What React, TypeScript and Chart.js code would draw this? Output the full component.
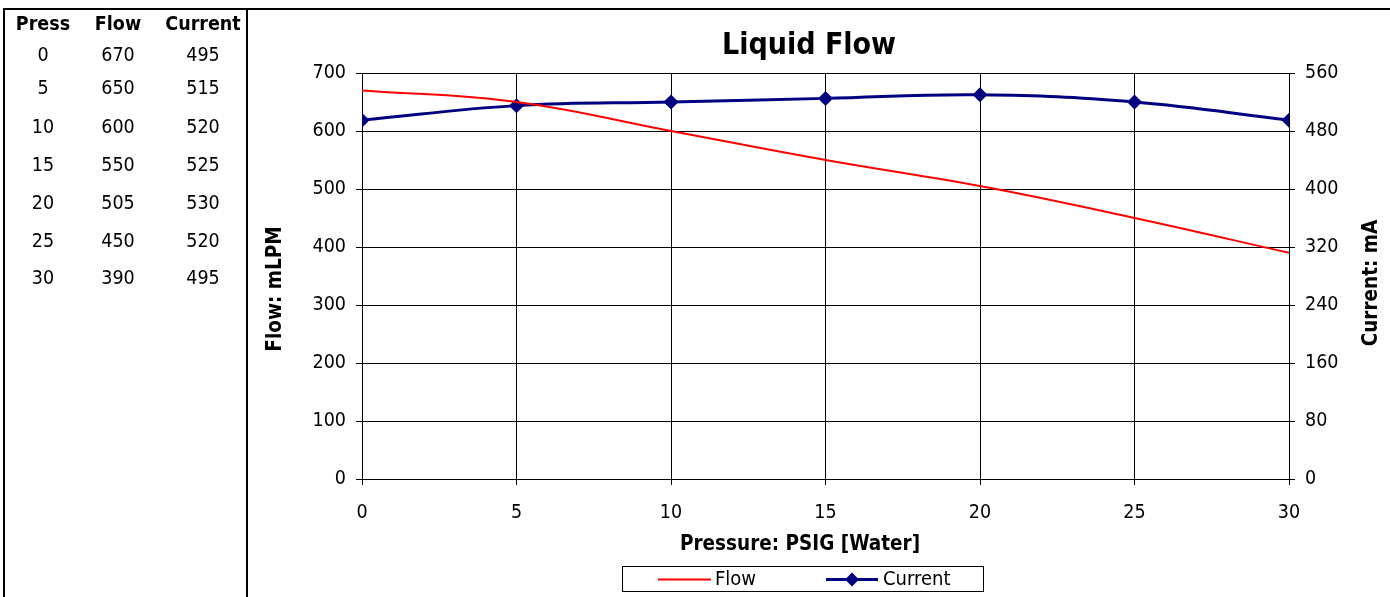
import React, { useEffect, useRef } from "react";
import { Chart, registerables } from "chart.js";

Chart.register(...registerables);

const pressure = [0, 5, 10, 15, 20, 25, 30];
const flow = [670, 650, 600, 550, 505, 450, 390];
const current = [495, 515, 520, 525, 530, 520, 495];
const tableHeaders = ["Press", "Flow", "Current"];
const chartTitle = "Liquid Flow";
const xTitle = "Pressure: PSIG [Water]";
const yTitle = "Flow: mLPM";
const y1Title = "Current: mA";

const FONT = "'DejaVu Sans Condensed', 'DejaVu Sans', sans-serif";
const FLOW_COLOR = "#FF0000";
const CURRENT_COLOR = "#000080";

const W = 1390;
const H = 597;

const overlayPlugin = {
  id: "overlay",
  afterDraw(chart: any) {
    const ctx = chart.ctx as CanvasRenderingContext2D;
    ctx.save();
    ctx.fillStyle = "#000";
    // chart title
    ctx.font = `bold 30px ${FONT}`;
    ctx.textAlign = "center";
    ctx.textBaseline = "middle";
    ctx.fillText(chartTitle, 809, 46);
    // x title
    ctx.font = `bold 20.5px ${FONT}`;
    ctx.fillText(xTitle, 800, 545);
    // left y title
    ctx.save();
    ctx.translate(276, 289);
    ctx.rotate(-Math.PI / 2);
    ctx.fillText(yTitle, 0, 0);
    ctx.restore();
    // right y title
    ctx.save();
    ctx.translate(1372, 283);
    ctx.rotate(-Math.PI / 2);
    ctx.fillText(y1Title, 0, 0);
    ctx.restore();

    // legend
    const ds = chart.data.datasets;
    ctx.lineWidth = 1;
    ctx.strokeStyle = "#000";
    ctx.strokeRect(622.5, 566.5, 361, 25);
    const ly = 579.5;
    ctx.font = `20px ${FONT}`;
    ctx.textAlign = "left";
    // Flow
    ctx.strokeStyle = ds[0].borderColor;
    ctx.lineWidth = 2;
    ctx.beginPath();
    ctx.moveTo(658, ly);
    ctx.lineTo(711, ly);
    ctx.stroke();
    ctx.fillStyle = "#000";
    ctx.fillText(ds[0].label, 715, ly);
    // Current
    ctx.strokeStyle = ds[1].borderColor;
    ctx.lineWidth = 3;
    ctx.beginPath();
    ctx.moveTo(826, ly);
    ctx.lineTo(878, ly);
    ctx.stroke();
    ctx.fillStyle = ds[1].pointBackgroundColor;
    const r = 7;
    ctx.beginPath();
    ctx.moveTo(852, ly - r);
    ctx.lineTo(852 + r, ly);
    ctx.lineTo(852, ly + r);
    ctx.lineTo(852 - r, ly);
    ctx.closePath();
    ctx.fill();
    ctx.fillStyle = "#000";
    ctx.fillText(ds[1].label, 883, ly);
    ctx.restore();
  },
};

export default function App() {
  const ref = useRef<HTMLCanvasElement>(null);

  useEffect(() => {
    document.body.style.margin = "0";
    const canvas = ref.current!;
    const tickFont = { family: FONT, size: 19.5 };
    const chart = new Chart(canvas, {
      type: "line",
      data: {
        datasets: [
          {
            label: "Flow",
            data: pressure.map((p, i) => ({ x: p, y: flow[i] })),
            borderColor: FLOW_COLOR,
            backgroundColor: FLOW_COLOR,
            borderWidth: 2,
            pointRadius: 0,
            tension: 0.4,
            yAxisID: "y",
          },
          {
            label: "Current",
            data: pressure.map((p, i) => ({ x: p, y: current[i] })),
            borderColor: CURRENT_COLOR,
            backgroundColor: CURRENT_COLOR,
            pointBackgroundColor: CURRENT_COLOR,
            pointBorderColor: CURRENT_COLOR,
            pointStyle: "rectRot",
            pointRadius: 7.5,
            pointBorderWidth: 0,
            borderWidth: 3,
            tension: 0.4,
            yAxisID: "y1",
          },
        ],
      },
      options: {
        animation: false,
        responsive: false,
        maintainAspectRatio: false,
        layout: { padding: { top: 73, left: 0, right: 0, bottom: 0 } },
        plugins: {
          legend: { display: false },
          title: { display: false },
          tooltip: { enabled: false },
        },
        scales: {
          x: {
            type: "linear",
            min: 0,
            max: 30,
            ticks: {
              stepSize: 5,
              color: "#000",
              font: tickFont,
              padding: 16,
              maxRotation: 0,
            },
            grid: { color: "#000", lineWidth: 1, tickLength: 6, drawTicks: true },
            border: { color: "#000", width: 1 },
            afterFit: (s: any) => {
              s.height = H - 479;
            },
          },
          y: {
            type: "linear",
            position: "left",
            min: 0,
            max: 700,
            ticks: {
              stepSize: 100,
              color: "#000",
              font: tickFont,
              padding: 10,
            },
            grid: { color: "#000", lineWidth: 1, tickLength: 6 },
            border: { color: "#000", width: 1 },
            afterFit: (s: any) => {
              s.width = 362;
            },
          },
          y1: {
            type: "linear",
            position: "right",
            min: 0,
            max: 560,
            ticks: {
              stepSize: 80,
              color: "#000",
              font: tickFont,
              padding: 10,
            },
            grid: {
              color: "#000",
              lineWidth: 1,
              tickLength: 6,
              drawOnChartArea: false,
              drawTicks: true,
            },
            border: { color: "#000", width: 1 },
            afterFit: (s: any) => {
              s.width = W - 1289;
            },
          },
        },
      },
      plugins: [overlayPlugin],
    });
    return () => chart.destroy();
  }, []);

  const colX = [43, 118, 203];
  const rowY = [24, 55, 88, 127, 165, 203, 241, 278];
  const rows = pressure.map((p, i) => [p, flow[i], current[i]]);

  const cell = (text: string | number, cx: number, cy: number, bold: boolean, key: string) => (
    <div
      key={key}
      style={{
        position: "absolute",
        left: cx - 60,
        width: 120,
        top: cy - 12,
        height: 24,
        lineHeight: "24px",
        textAlign: "center",
        fontFamily: FONT,
        fontSize: 19.5,
        fontWeight: bold ? "bold" : "normal",
        color: "#000",
      }}
    >
      {text}
    </div>
  );

  return (
    <div style={{ position: "relative", width: W, height: H, overflow: "hidden", background: "#fff" }}>
      <canvas ref={ref} width={W} height={H} style={{ position: "absolute", left: 0, top: 0, width: W, height: H }} />
      <div style={{ position: "absolute", left: 3, top: 8, width: W - 3, height: 2, background: "#000" }} />
      <div style={{ position: "absolute", left: 3, top: 8, width: 2, height: H - 8, background: "#000" }} />
      <div style={{ position: "absolute", left: 246, top: 8, width: 2, height: H - 8, background: "#000" }} />
      {tableHeaders.map((h, j) => cell(h, colX[j], rowY[0], true, "h" + j))}
      {rows.map((r, i) => r.map((v, j) => cell(v, colX[j], rowY[i + 1], false, `c${i}-${j}`)))}
    </div>
  );
}
